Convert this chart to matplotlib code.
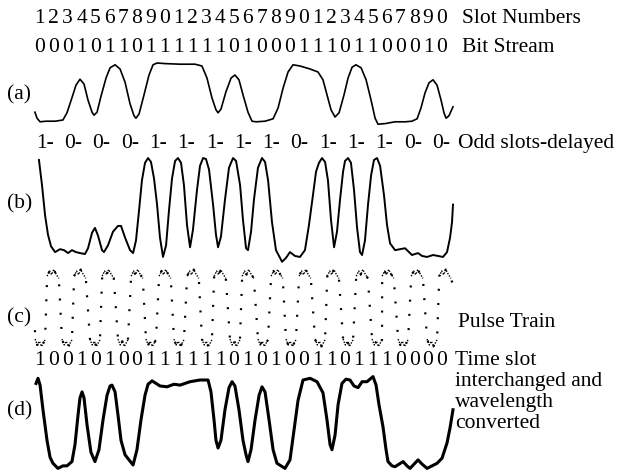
import matplotlib.pyplot as plt
import matplotlib.transforms as mtransforms

plt.rcParams['font.family'] = ['Liberation Serif', 'DejaVu Serif']

# bit patterns written above the traces
slot_numbers = "123456789012345678901234567890"
bit_stream = "000101101111110100011101100010"
odd_delayed = [1, 0, 0, 0, 1, 1, 1, 1, 1, 0, 1, 1, 1, 0, 0]
converted_bits = "100101001111110101001101110000"

# (a) input bit stream, time in slots, normalised amplitude
t_a = [0.14, 0.29, 0.51, 0.94, 1.59, 2.16, 2.45, 2.81, 3.10, 3.39, 3.68, 3.97, 4.26, 4.40,
       4.62, 4.91, 5.27, 5.56, 5.92, 6.28, 6.64, 7.00, 7.29, 7.43, 7.65, 8.01, 8.37, 8.66,
       8.95, 9.52, 10.61, 11.69, 12.19, 12.55, 12.91, 13.20, 13.35, 13.56, 13.92, 14.29,
       14.57, 14.86, 15.15, 15.51, 15.80, 16.09, 16.74, 17.32, 17.68, 18.04, 18.40, 18.76,
       19.26, 19.99, 20.56, 20.92, 21.21, 21.50, 21.79, 22.08, 22.44, 22.73, 23.02, 23.30,
       23.67, 24.03, 24.39, 24.68, 24.89, 25.40, 26.12, 26.84, 27.34, 27.71, 27.99, 28.28,
       28.57, 28.86, 29.15, 29.44, 29.65, 29.80, 30.01, 30.30]
amp_a = [0.18, 0.08, 0.02, 0.03, 0.03, 0.05, 0.17, 0.42, 0.63, 0.73, 0.65, 0.38, 0.18, 0.13,
         0.18, 0.45, 0.75, 0.92, 0.97, 0.90, 0.68, 0.32, 0.12, 0.08, 0.15, 0.47, 0.80, 0.97,
         1.00, 0.99, 0.98, 0.98, 0.95, 0.75, 0.42, 0.22, 0.17, 0.23, 0.52, 0.75,
         0.80, 0.72, 0.47, 0.18, 0.03, 0.02, 0.03, 0.07, 0.25, 0.58, 0.85, 0.97,
         0.95, 0.90, 0.85, 0.72, 0.47, 0.22, 0.10, 0.17, 0.47, 0.75, 0.93, 0.97,
         0.92, 0.72, 0.38, 0.08, -0.02, -0.01, 0.02, 0.02, 0.03, 0.07, 0.25, 0.50,
         0.67, 0.72, 0.63, 0.38, 0.17, 0.08, 0.12, 0.27]

# (b) odd slots delayed
t_b = [0.43, 0.65, 0.87, 1.08, 1.30, 1.59, 1.95, 2.24, 2.53, 2.81, 3.10, 3.39, 3.75, 3.97,
       4.26, 4.47, 4.69, 4.98, 5.12, 5.41, 5.77, 6.13, 6.35, 6.64, 7.00, 7.22, 7.43, 7.65,
       7.86, 8.08, 8.30, 8.51, 8.73, 8.95, 9.16, 9.38, 9.60, 9.81, 10.03, 10.25, 10.46,
       10.68, 10.89, 11.11, 11.33, 11.54, 11.83, 12.05, 12.27, 12.48, 12.70, 12.99, 13.20,
       13.35, 13.56, 13.85, 14.14, 14.43, 14.65, 14.94, 15.15, 15.37, 15.51, 15.73, 15.94,
       16.23, 16.52, 16.74, 16.96, 17.24, 17.53, 17.97, 18.25, 18.54, 18.90, 19.26, 19.62,
       19.91, 20.20, 20.42, 20.63, 20.85, 21.07, 21.28, 21.50, 21.72, 21.93, 22.15, 22.37,
       22.51, 22.73, 22.94, 23.16, 23.38, 23.59, 23.74, 23.95, 24.17, 24.39, 24.60, 24.82,
       25.04, 25.32, 25.54, 25.76, 26.12, 26.48, 26.84, 27.13, 27.34, 27.78, 28.07, 28.43,
       28.86, 29.22, 29.58, 29.87, 30.09, 30.23, 30.30]
amp_b = [0.98, 0.72, 0.41, 0.21, 0.09, 0.03, 0.06, 0.05, 0.02, 0.05, 0.03, 0.02, 0.01, 0.07,
         0.23, 0.28, 0.20, 0.05, 0.03, 0.10, 0.24, 0.30, 0.30, 0.18, 0.05, 0.02, 0.15, 0.46,
         0.77, 0.95, 1.00, 0.96, 0.79, 0.52, 0.18, -0.02, 0.10, 0.46, 0.79, 0.97, 1.00,
         0.95, 0.72, 0.31, 0.08, 0.26, 0.67, 0.92, 1.00, 0.99, 0.88, 0.52, 0.21,
         0.08, 0.19, 0.57, 0.90, 1.00, 0.97, 0.72, 0.36, 0.07, 0.05, 0.24, 0.57,
         0.90, 1.00, 0.96, 0.77, 0.34, 0.05, -0.07, -0.03, 0.03, -0.01, -0.02, 0.05,
         0.31, 0.62, 0.86, 0.95, 1.00, 0.96, 0.77, 0.36, 0.08, 0.24, 0.57, 0.86,
         0.97, 1.00, 0.95, 0.67, 0.28, 0.03, 0.00, 0.15, 0.52, 0.82, 0.98, 1.00,
         0.92, 0.62, 0.31, 0.12, 0.05, 0.06, 0.07, 0.03, 0.00, 0.02, -0.01, -0.02,
         0.00, -0.01, -0.02, 0.03, 0.18, 0.34, 0.52]

# (c) pulse train: slot positions of pulse tops and bottoms
pulse_tops = [1.44, 3.39, 5.41, 7.50, 9.52, 11.54, 13.49, 15.51, 17.60, 19.62, 21.65,
              23.74, 25.61, 27.71, 29.73]
pulse_bottoms = [0.51, 2.45, 4.47, 6.49, 8.51, 10.53, 12.55, 14.57, 16.59, 18.61, 20.71,
                 22.73, 24.82, 26.70, 28.79]

# (d) time slot interchanged and wavelength converted
t_d = [0.22, 0.36, 0.51, 0.72, 1.01, 1.23, 1.44, 1.80, 2.16, 2.45, 2.81, 3.03, 3.25, 3.39,
       3.54, 3.68, 3.90, 4.18, 4.47, 4.76, 5.05, 5.34, 5.56, 5.70, 5.92, 6.13, 6.35, 6.64,
       6.93, 7.22, 7.50, 7.79, 8.08, 8.30, 8.59, 9.16, 9.67, 10.17, 10.61, 11.33, 12.05,
       12.63, 12.84, 13.06, 13.20, 13.35, 13.56, 13.85, 14.14, 14.36, 14.57, 14.86, 15.15,
       15.37, 15.51, 15.73, 16.02, 16.31, 16.52, 16.74, 17.03, 17.32, 17.60, 17.89, 18.18,
       18.54, 18.83, 19.12, 19.48, 19.99, 20.49, 20.92, 21.21, 21.43, 21.57, 21.79, 22.01,
       22.29, 22.58, 22.87, 23.16, 23.45, 23.74, 24.10, 24.31, 24.53, 24.75, 24.96, 25.25,
       25.47, 25.61, 25.90, 26.12, 26.41, 26.70, 26.98, 27.20, 27.49, 27.78, 28.07, 28.43,
       28.79, 29.15, 29.51, 29.87, 30.09, 30.30]
amp_d = [0.96, 1.02, 0.94, 0.65, 0.29, 0.09, 0.02, -0.04, -0.01, -0.01, 0.04, 0.24, 0.59, 0.79,
         0.86, 0.79, 0.47, 0.15, 0.04, 0.18, 0.53, 0.82, 0.93, 0.94, 0.86, 0.59, 0.29, 0.12,
         0.06, 0.00, 0.18, 0.53, 0.82, 0.95, 0.99, 0.93, 0.92, 0.95, 0.94, 0.98, 1.00,
         1.00, 0.86, 0.53, 0.29, 0.20, 0.29, 0.65, 0.91, 0.98, 0.93, 0.65, 0.29,
         0.12, 0.04, 0.18, 0.53, 0.82, 0.92, 0.86, 0.53, 0.18, 0.02, -0.01, -0.04,
         0.06, 0.41, 0.76, 1.00, 1.02, 0.98, 0.85, 0.53, 0.24, 0.18, 0.35, 0.71,
         0.96, 1.01, 1.00, 0.93, 0.91, 0.98, 0.98, 1.01, 1.04, 0.94, 0.71, 0.45,
         0.18, 0.04, -0.01, -0.02, 0.01, 0.04, -0.01, -0.04, 0.01, 0.06, 0.01, -0.04,
         -0.01, 0.02, 0.08, 0.26, 0.44, 0.65]

fig = plt.figure(figsize=(6.18, 4.74), dpi=100)


def trace_axes(bottom, height):
    ax = fig.add_axes([0.0534, bottom, 0.6953, height])
    ax.set_xlim(0, 31)
    ax.set_ylim(0, 1)
    ax.axis('off')
    return ax


ax_a = trace_axes(0.7405, 0.1266)
ax_b = trace_axes(0.4620, 0.2046)
ax_c = trace_axes(0.2722, 0.1561)
ax_d = trace_axes(0.0190, 0.1793)

ax_a.plot(t_a, amp_a, color='black', lw=1.2, clip_on=False)
ax_b.plot(t_b, amp_b, color='black', lw=1.4, clip_on=False)
ax_d.plot(t_d, amp_d, color='black', lw=2.2, clip_on=False)

# pulse train, sampled scope trace -> dotted edges, wiggly tops/bottoms
top_shape = [(-0.42, 0.93), (-0.25, 1.0), (-0.1, 0.95), (0.05, 1.02), (0.22, 0.96), (0.42, 0.9)]
bot_shape = [(-0.36, 0.08), (-0.2, 0.0), (-0.05, 0.05), (0.1, -0.02), (0.36, 0.07)]
pts = [(0.14, 0.2), (30.3, 0.81)]
for c in pulse_tops:
    seg = [(c + dx, y) for dx, y in top_shape]
    pts += seg
    ax_c.plot([p[0] for p in seg], [p[1] for p in seg], color='black', lw=1.0,
              linestyle=(0, (1, 1)), clip_on=False)
for b in pulse_bottoms:
    seg = [(b + dx, y) for dx, y in bot_shape]
    pts += seg
    ax_c.plot([p[0] for p in seg], [p[1] for p in seg], color='black', lw=1.0,
              linestyle=(0, (1, 1)), clip_on=False)
pts.sort()
ax_c.plot([p[0] for p in pts], [p[1] for p in pts], color='black', lw=1.6,
          linestyle=(0, (0.9, 5.5)), clip_on=False)

# digit rows placed on slot centres
trans = mtransforms.blended_transform_factory(ax_a.transData, fig.transFigure)
fs = 15.5
for i, ch in enumerate(slot_numbers):
    fig.text(i + 0.5, 1 - 23 / 474, ch, transform=trans, ha='center', va='baseline', fontsize=fs)
for i, ch in enumerate(bit_stream):
    fig.text(i + 0.5, 1 - 52 / 474, ch, transform=trans, ha='center', va='baseline', fontsize=fs)
for k, b in enumerate(odd_delayed):
    fig.text(0.22 + 2.04 * k, 1 - 148 / 474, f"{b}-", transform=trans, ha='left',
             va='baseline', fontsize=fs)
for i, ch in enumerate(converted_bits):
    fig.text(i + 0.5, 1 - 365 / 474, ch, transform=trans, ha='center', va='baseline', fontsize=fs)

# panel letters
for lab, yp in [("(a)", 95), ("(b)", 204), ("(c)", 318), ("(d)", 411)]:
    fig.text(7 / 618, 1 - yp / 474, lab, ha='left', va='center', fontsize=fs)

# right hand captions
fig.text(462 / 618, 1 - 23 / 474, "Slot Numbers", va='baseline', fontsize=fs)
fig.text(462 / 618, 1 - 52 / 474, "Bit Stream", va='baseline', fontsize=fs)
fig.text(458 / 618, 1 - 148 / 474, "Odd slots-delayed", va='baseline', fontsize=fs)
fig.text(458 / 618, 1 - 327 / 474, "Pulse Train", va='baseline', fontsize=fs)
for line, yp in [("Time slot", 365), ("interchanged and", 386), ("wavelength", 407), ("converted", 428)]:
    fig.text(455 / 618, 1 - yp / 474, line, va='baseline', fontsize=fs)

fig.savefig("out.png", dpi=100)
